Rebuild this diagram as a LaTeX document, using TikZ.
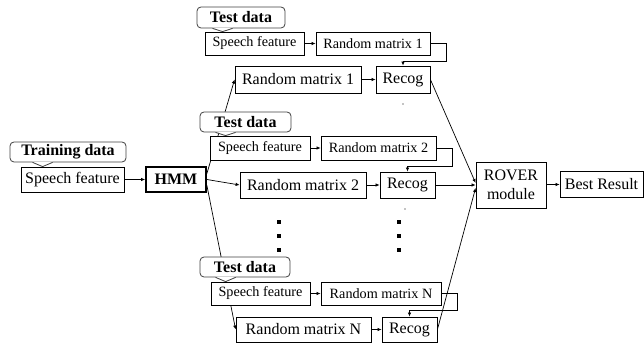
\documentclass[tikz,border=0pt]{standalone}
\usepackage{fontspec}
\setmainfont{Liberation Serif}
\usetikzlibrary{arrows.meta,calc}
\pgfdeclarelayer{background}
\pgfsetlayers{background,main}

% pointer of a "data" callout: #1 callout, #2 offset of the tip from the left edge, #3 box it points at
\newcommand\tippointer[3]{%
  \path let \p1=(#1.south west), \p2=(#3.north) in
    coordinate (#1-a) at (\x1+#2pt-10pt,\y1)
    coordinate (#1-t) at (\x1+#2pt,\y2)
    coordinate (#1-b) at (\x1+#2pt+10pt,\y1);
  \fill[white] ([yshift=0.7pt]#1-a) -- (#1-t) -- ([yshift=0.7pt]#1-b) -- cycle;
  \draw[cframe] (#1-a) -- (#1-t) -- (#1-b);
}

\begin{document}
\begin{tikzpicture}[x=1pt,y=-1pt,
  box/.style={draw, line width=0.8pt, inner sep=0pt, fill=white,
    font=\fontsize{16}{18.5}\selectfont},
  sbox/.style={box, font=\fontsize{14.2}{16}\selectfont},
  hmmbox/.style={box, line width=1.8pt, font=\fontsize{16}{18}\selectfont\bfseries},
  cframe/.style={draw=black!75, line width=0.8pt},
  callout/.style={cframe, rounded corners=4pt, fill=white, inner sep=0pt,
    font=\fontsize{16}{18}\selectfont\bfseries},
  arr/.style={line width=0.7pt, -{Latex[length=4pt,width=3.5pt]}},
  sq/.style={fill=black, inner sep=0pt, minimum size=4pt},
  speck/.style={fill=black, circle, inner sep=0pt, minimum size=1.3pt}
]
\useasboundingbox (0,0) rectangle (644,344);

% ---- training branch ----
\node[box, minimum width=103pt, minimum height=25pt] (sf) at (72.5,179.5) {Speech feature};
\node[hmmbox, minimum width=60pt, minimum height=25pt] (hmm) at (176,179.5) {HMM};

% ---- branch 1 ----
\node[sbox, minimum width=99pt, minimum height=23pt] (tf1) at (254.5,43.5) {Speech feature};
\node[sbox, minimum width=114pt, minimum height=23pt] (trm1) at (373,43.5) {Random matrix 1};
\node[box, minimum width=126pt, minimum height=27pt] (rm1) at (298,79.5) {Random matrix 1};
\node[box, minimum width=54pt, minimum height=27pt] (rc1) at (403,79.5) {Recog};

% ---- branch 2 ----
\node[sbox, minimum width=100pt, minimum height=24pt] (tf2) at (260,148) {Speech feature};
\node[sbox, minimum width=115pt, minimum height=24pt] (trm2) at (378.5,148) {Random matrix 2};
\node[box, minimum width=126pt, minimum height=26pt] (rm2) at (303,185) {Random matrix 2};
\node[box, minimum width=55pt, minimum height=26pt] (rc2) at (407.5,185) {Recog};

% ---- branch N ----
\node[sbox, minimum width=99pt, minimum height=23pt] (tf3) at (260.5,293.5) {Speech feature};
\node[sbox, minimum width=120pt, minimum height=23pt] (trm3) at (381,293.5) {Random matrix N};
\node[box, minimum width=135pt, minimum height=25pt] (rm3) at (303.5,329.5) {Random matrix N};
\node[box, minimum width=55pt, minimum height=25pt] (rc3) at (409.5,329.5) {Recog};

% ---- combination ----
\node[box, minimum width=70pt, minimum height=46pt, align=center] (rover) at (511,185) {ROVER\\module};
\node[box, minimum width=83pt, minimum height=26pt] (best) at (601.5,184) {Best Result};

% ---- callouts ----
\node[callout, minimum width=116pt, minimum height=20pt] (cbt) at (68,152) {Training data};
\tippointer{cbt}{33}{sf}
\node[callout, minimum width=88pt, minimum height=21pt] (cb1) at (241,17.5) {Test data};
\tippointer{cb1}{26}{tf1}
\node[callout, minimum width=91pt, minimum height=20pt] (cb2) at (245.5,122) {Test data};
\tippointer{cb2}{26}{tf2}
\node[callout, minimum width=90pt, minimum height=20pt] (cb3) at (245,267) {Test data};
\tippointer{cb3}{26}{tf3}

% ---- HMM fans out to the branches (behind the boxes) ----
\begin{pgfonlayer}{background}
\draw[arr] ([yshift=6pt]hmm.east) -- (rm1.west);
\draw[arr] (hmm.east) -- (rm2.west);
\draw[arr] ([yshift=-6pt]hmm.east) -- (rm3.west);
\end{pgfonlayer}

% ---- arrows ----
\draw[arr] (sf) -- (hmm);

\draw[arr] (tf1) -- (trm1);
\draw[arr] (rm1) -- (rc1);
\draw[arr] (trm1.east) -- ++(16,0) |- ($(rc1.north)+(0,-4)$) -- (rc1.north);

\draw[arr] (tf2) -- (trm2);
\draw[arr] (rm2) -- (rc2);
\draw[arr] (trm2.east) -- ++(16,0) |- ($(rc2.north)+(0,-5)$) -- (rc2.north);

\draw[arr] (tf3) -- (trm3);
\draw[arr] (rm3) -- (rc3);
\draw[arr] (trm3.east) -- ++(16,0) |- ($(rc3.north)+(0,-6)$) -- (rc3.north);

\draw[arr] (rc1.east) -- ([yshift=2pt]rover.west);
\draw[arr] (rc2.east) -- (rover.west);
\draw[arr] (rc3.east) -- ([yshift=-3pt]rover.west);
\draw[arr] (rover) -- (best);

% ---- vertical ellipses ----
\node[sq] (e1) at (279,222) {};
\node[sq] (e2) at (279,236) {};
\node[sq] (e3) at (279,250) {};
\node[sq] (e4) at (399,222) {};
\node[sq] (e5) at (399,236) {};
\node[sq] (e6) at (399,250) {};
\node[speck] (s1) at (403,104) {};
\node[speck] (s2) at (405,209) {};
\end{tikzpicture}
\end{document}
